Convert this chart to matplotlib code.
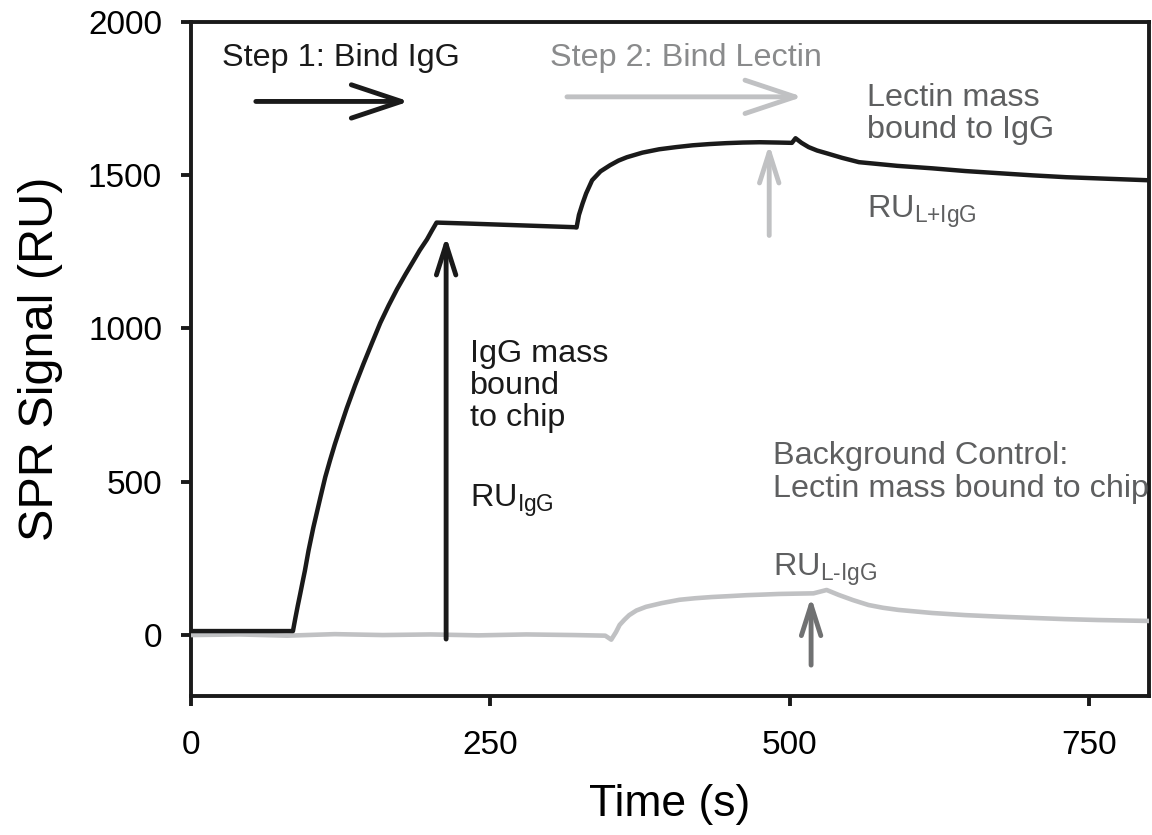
import numpy as np
import matplotlib.pyplot as plt

plt.rcParams['font.family'] = ['Liberation Sans', 'DejaVu Sans']
plt.rcParams['mathtext.fontset'] = 'custom'
plt.rcParams['mathtext.rm'] = 'Liberation Sans'

# IgG + lectin curve (black)
t_igg = [0, 20, 40, 60, 85, 87, 89, 91, 93, 95, 98, 102, 105, 108, 112, 116, 120, 123,
         127, 130, 137, 144, 151, 158, 165, 172, 179, 186, 191, 197, 201, 205,
         230, 260, 290, 320, 322, 324, 327, 330, 335, 342, 350, 357, 364, 377,
         391, 405, 419, 433, 447, 461, 475, 490, 502, 505, 510, 516, 523, 531,
         544, 558, 590, 619, 647, 675, 703, 731, 765, 800]
ru_igg = [13, 13, 13, 13, 13, 55, 95, 133, 172, 210, 275, 350, 400, 450, 515, 570, 622, 658,
          705, 740, 815, 885, 952, 1018, 1075, 1128, 1176, 1222, 1255, 1290, 1318, 1345,
          1342, 1338, 1334, 1330, 1329, 1370, 1407, 1440, 1483, 1512, 1532, 1547, 1558, 1573,
          1584, 1591, 1597, 1601, 1604, 1606, 1607, 1606, 1605, 1620, 1605, 1591, 1580, 1571,
          1556, 1542, 1530, 1522, 1513, 1506, 1499, 1493, 1488, 1483]

# background control curve (grey)
t_bg = [0, 40, 80, 120, 160, 200, 240, 280, 320, 346, 351, 355, 358, 362, 366,
        372, 380, 393, 408, 421, 435, 450, 464, 478, 491, 505, 520, 526, 531,
        536, 541, 553, 566, 578, 591, 619, 647, 675, 702, 730, 758, 800]
ru_bg = [0, 2, -2, 3, 0, 2, -1, 2, 0, -2, -15, 10, 33, 50, 65,
         80, 92, 104, 115, 120, 124, 127, 130, 132, 134, 135, 136, 142, 147,
         139, 131, 114, 98, 89, 82, 72, 65, 60, 56, 52, 49, 46]

black = '#1a1a1a'
light = '#c0c1c3'
mid = '#707172'
txt_grey = '#5e5f60'

fig = plt.figure(figsize=(11.52, 8.35), dpi=100)
ax = fig.add_axes([0.166, 0.166, 0.831, 0.808])

ax.plot(t_bg, ru_bg, color=light, lw=3.3, solid_joinstyle='round', zorder=3)
ax.plot(t_igg, ru_igg, color=black, lw=3.2, solid_joinstyle='round', zorder=4)

ax.set_xlim(0, 800)
ax.set_ylim(-200, 2000)
ax.set_xticks([0, 250, 500, 750])
ax.set_yticks([0, 500, 1000, 1500, 2000])
ax.tick_params(direction='out', length=7, width=2.8, labelsize=24, color=black)
ax.tick_params(axis='x', pad=17)
ax.tick_params(axis='y', pad=14)
for s in ax.spines.values():
    s.set_linewidth(2.8)
    s.set_color(black)
ax.set_xlabel('Time (s)', fontsize=32, labelpad=17)
ax.set_ylabel('SPR Signal (RU)', fontsize=35, labelpad=18)


def arrow(x0, y0, x1, y1, color, hl, hw, lw=3.5):
    ax.annotate('', xy=(x1, y1), xytext=(x0, y0),
                arrowprops=dict(arrowstyle=f'->,head_length={hl},head_width={hw}',
                                lw=lw, color=color, mutation_scale=1,
                                shrinkA=0, shrinkB=0, capstyle='round',
                                joinstyle='round'), zorder=5)


# step arrows
arrow(54, 1740, 182, 1740, black, 36, 12)
arrow(314, 1755, 511, 1755, light, 36, 12)
# vertical arrows
arrow(213, -13, 213, 1300, black, 22, 7)
arrow(483, 1303, 483, 1600, light, 22, 7)
arrow(518, -98, 518, 124, mid, 22, 7)

fs = 23.3
ls = 1.1
ax.text(26, 1882, 'Step 1: Bind IgG', fontsize=fs, color=black, va='center')
ax.text(300, 1882, 'Step 2: Bind Lectin', fontsize=fs, color='#8a8b8c', va='center')
ax.text(565, 1699, 'Lectin mass\nbound to IgG', fontsize=fs, color=txt_grey,
        va='center', linespacing=ls)
ax.text(565, 1362, r'RU$_{\text{L+IgG}}$', fontsize=fs, color=txt_grey, va='baseline')
ax.text(233, 812, 'IgG mass\nbound\nto chip', fontsize=fs, color=black,
        va='center', linespacing=ls)
ax.text(233, 419, r'RU$_{\text{IgG}}$', fontsize=fs, color=black, va='baseline')
ax.text(486, 530, 'Background Control:\nLectin mass bound to chip', fontsize=fs,
        color=txt_grey, va='center', linespacing=ls)
ax.text(486, 193, r'RU$_{\text{L-IgG}}$', fontsize=fs, color=txt_grey, va='baseline')

fig.savefig('out.png', dpi=100)
